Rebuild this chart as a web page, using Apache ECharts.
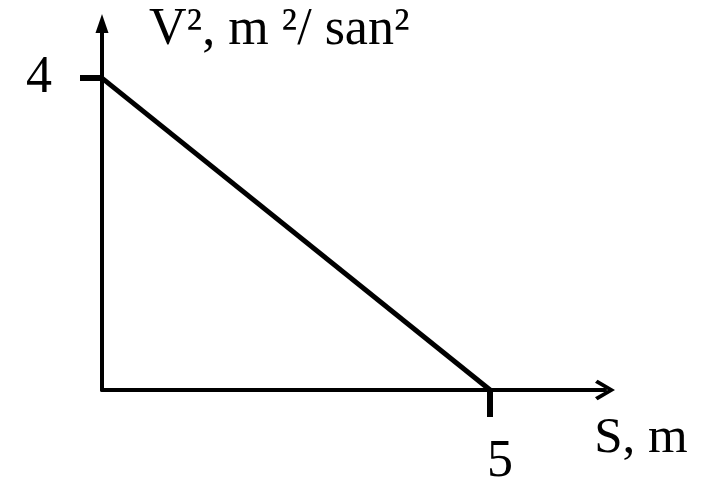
<!DOCTYPE html>
<html>
<head>
<meta charset="utf-8">
<script src="https://cdn.jsdelivr.net/npm/echarts@6/dist/echarts.min.js"></script>
<style>
  html, body { margin: 0; padding: 0; background: #fff; }
  #chart { width: 705px; height: 483px; }
</style>
</head>
<body>
<div id="chart"></div>
<script>
// Distance S (m) against squared speed V^2 (m^2/san^2)
const sValues = [0, 5];
const v2Values = [4, 0];
const xTicks = [5];
const yTicks = [4];
const xName = 'S, m';
const yName = 'V², m ²/ san²';

const FONT = '"Liberation Serif", "Times New Roman", serif';
const INK = '#000';

// open chevron used for the horizontal axis arrow (drawn pointing up, rotated by ECharts)
const chevron = 'path://M0,17 L10,0 L20,17 L17,19.5 L10,7 L3,19.5 Z';

const chart = echarts.init(document.getElementById('chart'), null, { renderer: 'canvas' });
chart.setOption({
  animation: false,
  backgroundColor: '#fff',
  grid: {
    left: 102, right: 100, top: 23.5, bottom: 93,
    containLabel: false,
    outerBoundsMode: 'none'
  },
  xAxis: {
    type: 'value',
    min: 0,
    max: 6.48,
    splitLine: { show: false },
    axisLine: {
      show: true,
      onZero: false,
      symbol: ['none', chevron],
      symbolSize: [22, 20],
      lineStyle: { color: INK, width: 4 }
    },
    axisTick: {
      show: true,
      customValues: xTicks,
      length: 27,
      lineStyle: { color: INK, width: 6 }
    },
    axisLabel: {
      customValues: xTicks,
      margin: 46,
      color: INK,
      fontFamily: FONT,
      fontSize: 52,
      padding: [0, 0, 0, 20]
    },
    name: xName,
    nameLocation: 'end',
    nameGap: 36,
    nameTextStyle: {
      color: INK,
      fontFamily: FONT,
      fontSize: 51,
      align: 'center',
      verticalAlign: 'top',
      padding: [23, 0, 0, 0]
    }
  },
  yAxis: {
    type: 'value',
    min: 0,
    max: 4.70,
    splitLine: { show: false },
    axisLine: {
      show: true,
      onZero: false,
      symbol: ['none', 'triangle'],
      symbolSize: [13, 19],
      lineStyle: { color: INK, width: 4 }
    },
    axisTick: {
      show: true,
      customValues: yTicks,
      length: 22,
      lineStyle: { color: INK, width: 6 }
    },
    axisLabel: {
      customValues: yTicks,
      margin: 50,
      color: INK,
      fontFamily: FONT,
      fontSize: 52,
      verticalAlign: 'middle',
      padding: [0, 0, 12, 0]
    },
    name: yName,
    nameLocation: 'end',
    nameGap: -7,
    nameTextStyle: {
      color: INK,
      fontFamily: FONT,
      fontSize: 52,
      align: 'left',
      verticalAlign: 'middle',
      padding: [0, 0, 0, 47]
    }
  },
  series: [{
    type: 'line',
    data: sValues.map((s, i) => [s, v2Values[i]]),
    symbol: 'none',
    lineStyle: { color: INK, width: 5 },
    z: 1
  }]
});
</script>
</body>
</html>
